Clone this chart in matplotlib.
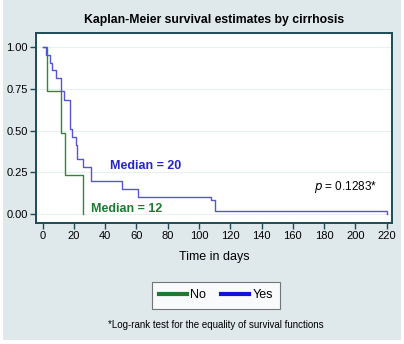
import matplotlib
matplotlib.use("Agg")
import matplotlib.pyplot as plt
from matplotlib.patches import Rectangle
from matplotlib.lines import Line2D

plt.rcParams['font.family'] = ['Liberation Sans', 'DejaVu Sans']

# Kaplan-Meier step curves (time in days, survival estimate)
no_days = [0, 3, 11.5, 14.5, 25.5]
no_surv = [1.0, 0.737, 0.487, 0.232, 0.0]

yes_days = [0, 2, 4.7, 5.7, 8.5, 11.5, 13.5, 17.5, 19, 21, 22, 26, 31, 51, 61, 108, 110, 220]
yes_surv = [1.0, 0.955, 0.909, 0.864, 0.818, 0.736, 0.682, 0.508, 0.46, 0.414, 0.33,
            0.28, 0.196, 0.15, 0.104, 0.085, 0.02, 0.0]

xticks = list(range(0, 221, 20))
yticks = [0.0, 0.25, 0.5, 0.75, 1.0]

bg = '#dfe9ec'
frame = '#1d4b55'
blue = '#5656d2'
green = '#2a8a3a'

fig = plt.figure(figsize=(4.04, 3.44), dpi=100)
fig.patch.set_facecolor('white')
fig.patches.append(Rectangle((3 / 404, 4 / 344), 398 / 404, 340 / 344,
                             transform=fig.transFigure, facecolor=bg, edgecolor='none', zorder=-10))

ax = fig.add_axes([36 / 404, 1 - 223 / 344, 356 / 404, 190 / 344])
ax.set_facecolor('white')

ax.step(no_days, no_surv, where='post', color=green, lw=1.0)
ax.step(yes_days, yes_surv, where='post', color=blue, lw=1.0)

ax.set_xlim(-4.3, 223.5)
ax.set_ylim(-0.054, 1.086)
ax.set_xticks(xticks)
ax.set_yticks(yticks)
ax.set_yticklabels(['%.2f' % v for v in yticks])
ax.tick_params(labelsize=8, length=4, width=1, color=frame, pad=2)
ax.grid(axis='y', color='#eaf0f2', lw=0.8)
ax.set_axisbelow(True)
for s in ax.spines.values():
    s.set_color(frame)
    s.set_linewidth(1.4)

ax.set_xlabel('Time in days', fontsize=9, labelpad=7)
ax.set_title('Kaplan-Meier survival estimates by cirrhosis', fontsize=8.8,
             fontweight='bold', pad=7)

ax.text(43, 0.29, 'Median = 20', color='#2626c8', fontsize=9, fontweight='bold', va='center')
ax.text(31, 0.03, 'Median = 12', color='#1e7a30', fontsize=9, fontweight='bold', va='center')
ax.text(214, 0.165, r'$\it{p}$ = 0.1283*', fontsize=8.5, ha='right', va='center')

handles = [Line2D([], [], color='#1e7a30', lw=3), Line2D([], [], color='#1010e0', lw=3)]
leg = fig.legend(handles, ['No', 'Yes'], loc='center', bbox_to_anchor=(216 / 404, 1 - 295 / 344),
                 ncol=2, fontsize=9, frameon=True, fancybox=False, handlelength=2.2,
                 handletextpad=0.3, columnspacing=1.2, borderpad=0.6)
leg.get_frame().set_edgecolor('#555555')
leg.get_frame().set_linewidth(0.8)

fig.text(216 / 404, 1 - 325 / 344, '*Log-rank test for the equality of survival functions',
         fontsize=7, ha='center', va='center')

fig.savefig('out.png', dpi=100, facecolor=fig.get_facecolor())
